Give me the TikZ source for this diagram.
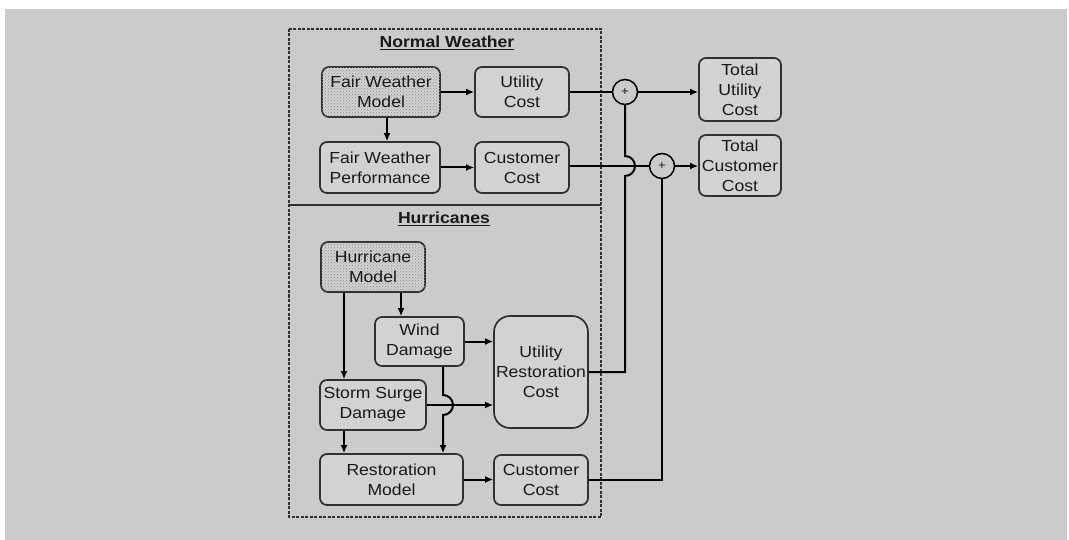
\documentclass[tikz,border=0pt]{standalone}
\usepackage{fontspec}
\setmainfont[FakeStretch=1.1]{Liberation Sans}
\usetikzlibrary{arrows.meta,patterns,calc}
\definecolor{bg}{HTML}{CBCBCB}
\definecolor{boxfill}{HTML}{D2D2D2}
\definecolor{edge}{HTML}{303030}
\begin{document}
\begin{tikzpicture}[x=1pt,y=-1pt,
  every node/.style={font=\fontsize{16}{20}\selectfont, text=black!90},
  blk/.style={draw=edge, line width=1.7pt, rounded corners=7pt, fill=boxfill, align=center, inner sep=0pt},
  dotted box/.style={blk, fill=boxfill, postaction={pattern=crosshatch dots, pattern color=black!45}},
  plus/.style={draw=black, line width=1.5pt, circle, minimum size=25pt, inner sep=0pt, fill=bg, font=\fontsize{12}{12}\selectfont},
  conn/.style={line width=2pt, draw=black},
  arr/.style={conn, -{Latex[length=8pt,width=7pt]}},
  title/.style={font=\fontsize{16}{20}\selectfont\bfseries}
]
\useasboundingbox (0,0) rectangle (1069,540);
\fill[white] (0,0) rectangle (1069,540);
\fill[bg] (5,9) rectangle (1067,540);

% outer frame
\draw[edge, line width=1.1pt, dash pattern=on 3pt off 1.5pt] (289,29) rectangle (601,517);
\draw[edge, line width=2pt] (289,205) -- (601,205);

\node[title] (tnw) at (447,43) {\underline{Normal Weather}};
\node[title] (thu) at (444,219) {\underline{Hurricanes}};

% normal weather
\node[dotted box, minimum width=118pt, minimum height=50pt] (fwm) at (381,92) {Fair Weather\\Model};
\node[blk, minimum width=94pt, minimum height=50pt] (uc1) at (522,92) {Utility\\Cost};
\node[blk, minimum width=120pt, minimum height=51pt] (fwp) at (380,167.5) {Fair Weather\\Performance};
\node[blk, minimum width=94pt, minimum height=51pt] (cc1) at (522,167.5) {Customer\\Cost};

% totals
\node[plus] (p1) at (625,92) {+};
\node[plus] (p2) at (662,166) {+};
\node[blk, minimum width=82pt, minimum height=63pt] (tuc) at (740,89.5) {Total\\Utility\\Cost};
\node[blk, minimum width=82pt, minimum height=61pt] (tcc) at (740,165.5) {Total\\Customer\\Cost};

% hurricanes
\node[dotted box, minimum width=104pt, minimum height=50pt] (hm) at (373,267) {Hurricane\\Model};
\node[blk, minimum width=89pt, minimum height=49pt] (wd) at (419.5,341.5) {Wind\\Damage};
\node[blk, rounded corners=16pt, minimum width=94pt, minimum height=112pt] (urc) at (541,372) {Utility\\Restoration\\Cost};
\node[blk, minimum width=106pt, minimum height=50pt] (ssd) at (373,405) {Storm Surge\\Damage};
\node[blk, minimum width=143pt, minimum height=51pt] (rm) at (391.5,479.5) {Restoration\\Model};
\node[blk, minimum width=94pt, minimum height=50pt] (cc2) at (541,480) {Customer\\Cost};

% connectors normal weather
\draw[arr] ([xshift=6pt]fwm.south) -- ([xshift=6pt]fwm.south |- fwp.north);
\draw[arr] (fwm.east) -- (uc1.west);
\draw[arr] (fwp.east) -- (fwp.east -| cc1.west);
\draw[conn] (uc1.east) -- (p1.west);
\draw[arr] (p1.east) -- (p1.east -| tuc.west);
\draw[conn] (cc1.east |- p2.west) -- (p2.west);
\draw[arr] (p2.east) -- (p2.east -| tcc.west);

% hurricane connectors
\draw[arr] ([xshift=-29pt]hm.south) -- ([xshift=-29pt]hm.south |- ssd.north);
\draw[arr] ([xshift=28pt]hm.south) -- ([xshift=28pt]hm.south |- wd.north);
\draw[arr] (wd.east) -- (wd.east -| urc.west);
\draw[arr] (ssd.east) -- (ssd.east -| urc.west);
\draw[arr] ([xshift=-29pt]ssd.south) -- ([xshift=-29pt]ssd.south |- rm.north);
\draw[arr] ([xshift=23.5pt]wd.south) -- ([xshift=23.5pt]wd.south |- 0,395)
   arc[start angle=90, end angle=-90, radius=10pt] -- ([xshift=23.5pt]wd.south |- rm.north);
\draw[arr] (rm.east) -- (rm.east -| cc2.west);

% to summing junctions
\draw[conn] (urc.east) -- (p1.south |- urc.east) -- (625,176)
   arc[start angle=-90, end angle=90, radius=10pt] -- (p1.south);
\draw[conn] (cc2.east) -- (p2.south |- cc2.east) -- (p2.south);
\end{tikzpicture}
\end{document}
